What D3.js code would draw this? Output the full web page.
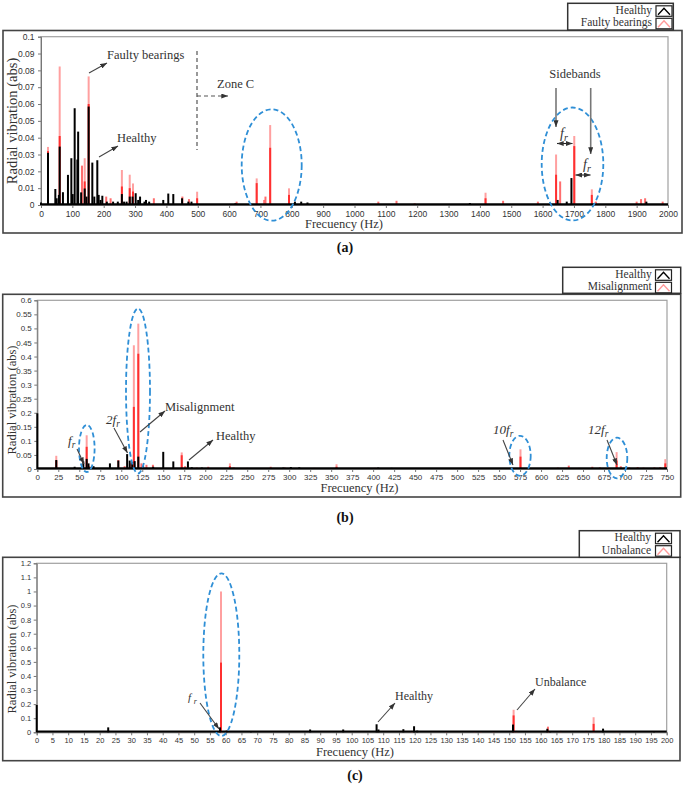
<!DOCTYPE html>
<html>
<head>
<meta charset="utf-8">
<script src="https://cdnjs.cloudflare.com/ajax/libs/d3/7.8.5/d3.min.js"></script>
<style>
  body { margin: 0; background: #fff; }
  svg text { font-family: "Liberation Serif", "DejaVu Serif", "Times New Roman", serif; fill: #333; }
  .tick text { font-family: "Liberation Sans Narrow", "Liberation Sans", Arial, sans-serif; fill: #333; }
  .tick line, .domain { stroke: #777; }
</style>
</head>
<body>
<svg id="chart" width="685" height="788"></svg>
<script>
// ---- data: [frequency Hz, amplitude] ; red ones: [f, peak, solid part] ----
const healthyA = [[0,0.0015],[22.3,0.031],[45.7,0.0095],[50,0.004],[57,0.006],[59.6,0.0347],[70,0.0076],[86,0.0179],
  [96.8,0.0278],[101,0.0065],[107.4,0.0575],[116,0.027],[118.5,0.0436],[128,0.0075],[139.4,0.0098],[145,0.005],
  [152,0.0585],[163.7,0.0252],[170,0.005],[179.6,0.0266],[184,0.006],[190,0.003],[195.6,0.0055],[210,0.002],
  [230,0.002],[245,0.002],[258,0.0065],[265,0.002],[273,0.002],[283,0.005],[292,0.005],[302,0.007],[310,0.003],
  [316,0.005],[330,0.002],[335,0.003],[345,0.002],[390,0.003],[406,0.0068],[422,0.0065],[450,0.004],[470,0.002],
  [480,0.002],[620,0.001],[810,0.002],[830,0.002],[850,0.0015],[1368,0.0012],[1648,0.003],[1677,0.002],
  [1692,0.016],[1931,0.002]];
const faultyA = [[22.3,0.0345,0.032],[59.6,0.0823,0.041],[130.8,0.0234],[139.4,0.0278,0.014],[152,0.0764,0.06],
  [208,0.005],[222,0.004],[258,0.0208,0.011],[283,0.018,0.01],[293.5,0.0128,0.008],[360,0.004],[451,0.005],
  [472,0.0035],[498,0.0079,0.004],[624,0.002],[688,0.0158,0.013],[712,0.003],[716,0.005],[731,0.0475,0.034],
  [791,0.0099,0.006],[1076,0.002],[1134,0.0025],[1192,0.001],[1418,0.0073,0.004],[1474,0.0025],[1585,0.002],
  [1643,0.03,0.018],[1656,0.014],[1701,0.041,0.035],[1757,0.0093,0.006],[1770,0.002],[1900,0.002],
  [1914,0.0035],[1927,0.004],[1983,0.002]];

const healthyB = [[0,0.198],[22.6,0.032],[44.5,0.008],[54.8,0.027],[58.8,0.036],[61,0.02],[67,0.01],[86.5,0.02],
  [96.5,0.03],[107,0.053],[110,0.03],[113,0.025],[116,0.028],[120.3,0.044],[126,0.01],[138,0.008],[150,0.061],
  [162,0.027],[179.4,0.027],[184,0.006],[196,0.005],[232,0.004],[260,0.003],[293,0.005],[302,0.007],[312,0.006],
  [406,0.005],[422,0.004],[452,0.003]];
const misalignB = [[22.6,0.047,0.03],[58.8,0.12,0.079],[62,0.01],[96.5,0.032],[104,0.01],[111,0.02],
  [115,0.44,0.221],[120.3,0.517,0.41],[124,0.02],[130,0.015],[137.7,0.015],[172,0.059,0.049],[176,0.01],
  [190,0.005],[203.6,0.008],[229.4,0.02,0.01],[234,0.006],[250,0.004],[278,0.008],[295,0.005],[330,0.004],
  [356.4,0.017,0.008],[402,0.004],[470,0.003],[515,0.004],[575.5,0.07,0.044],[610,0.003],[620,0.005],
  [633,0.012],[645,0.004],[661,0.008],[670,0.006],[680,0.005],[690,0.06,0.03],[695,0.01],[705,0.006],
  [715,0.007],[722,0.005],[735,0.006],[742,0.007],[748,0.035,0.02]];

const healthyC = [[0,0.194],[22.7,0.035],[58.2,0.035],[60.3,0.012],[68,0.005],[86.8,0.02],[97.3,0.02],
  [107.9,0.057],[108.5,0.02],[116.4,0.022],[119.8,0.043],[120.8,0.012],[151.2,0.055],[162.1,0.025],[163,0.008],
  [179.8,0.026],[196,0.003]];
const unbalanceC = [[45.3,0.005],[58.5,1.0,0.495],[119.1,0.01],[130,0.006],[139,0.004],[141,0.004],[145,0.004],
  [151.4,0.16,0.12],[152.3,0.01],[162.3,0.04],[166.3,0.01],[174.5,0.01],[176.8,0.107,0.06],[184.1,0.005]];

const xTicksA = d3.range(0, 2001, 100);
const yTicksA = [0,0.01,0.02,0.03,0.04,0.05,0.06,0.07,0.08,0.09,0.1];
const xTicksB = d3.range(0, 751, 25);
const yTicksB = [0,0.05,0.1,0.15,0.2,0.25,0.3,0.35,0.4,0.45,0.5,0.55,0.6];
const xTicksC = d3.range(0, 201, 5);
const yTicksC = [0,0.1,0.2,0.3,0.4,0.5,0.6,0.7,0.8,0.9,1,1.1,1.2];

const legendA = ["Healthy", "Faulty bearings"];
const legendB = ["Healthy", "Misalignment"];
const legendC = ["Healthy", "Unbalance"];

const SERIF = '"Liberation Serif", "DejaVu Serif", "Times New Roman", serif';

const svg = d3.select("#chart");
const defs = svg.append("defs");
defs.append("marker").attr("id", "ah").attr("viewBox", "0 0 8 6").attr("refX", 8).attr("refY", 3)
  .attr("markerWidth", 7).attr("markerHeight", 5).attr("markerUnits", "userSpaceOnUse").attr("orient", "auto-start-reverse")
  .append("path").attr("d", "M0,0L8,3L0,6z").attr("fill", "#333");

function serifText(sel, size) {
  return sel.style("font-family", SERIF).style("font-size", size + "px");
}

function drawPanel(p) {
  const g = svg.append("g");
  // outer frame
  g.append("rect").attr("x", p.frame[0]).attr("y", p.frame[1]).attr("width", p.frame[2] - p.frame[0])
    .attr("height", p.frame[3] - p.frame[1]).attr("fill", "none").attr("stroke", "#444").attr("stroke-width", 1.6);

  const x = d3.scaleLinear().domain([0, p.xMax]).range([p.left, p.right]);
  const y = d3.scaleLinear().domain([0, p.yMax]).range([p.bottom, p.top]);

  g.append("rect").attr("x", p.left).attr("y", p.top).attr("width", p.right - p.left)
    .attr("height", p.bottom - p.top).attr("fill", "none").attr("stroke", "#a0a0a0").attr("stroke-width", 1.2);

  const xa = g.append("g").attr("transform", `translate(0,${p.bottom})`)
    .call(d3.axisBottom(x).tickValues(p.xTicks).tickSize(3).tickPadding(2.5).tickFormat(d3.format("d")));
  xa.selectAll("text").style("font-size", p.tickFs + "px");
  const ya = g.append("g").attr("transform", `translate(${p.left},0)`)
    .call(d3.axisLeft(y).tickValues(p.yTicks).tickSize(3).tickPadding(p.yPad).tickFormat(d => String(+d.toFixed(2))));
  ya.selectAll("text").style("font-size", p.tickFs + "px");

  // faulty spectrum (red) under healthy (black)
  const red = g.append("g");
  red.selectAll("line.pk").data(p.red).join("line").attr("class", "pk")
    .attr("x1", d => x(d[0])).attr("x2", d => x(d[0]))
    .attr("y1", y(0)).attr("y2", d => y(d[1]))
    .attr("stroke", d => d[2] ? "#ffa0a0" : "#ff6e6e").attr("stroke-width", 2);
  red.selectAll("line.sd").data(p.red.filter(d => d[2])).join("line").attr("class", "sd")
    .attr("x1", d => x(d[0])).attr("x2", d => x(d[0]))
    .attr("y1", y(0)).attr("y2", d => y(d[2]))
    .attr("stroke", "#ff3030").attr("stroke-width", 2);

  g.append("line").attr("x1", x(0)).attr("x2", x(p.xMax)).attr("y1", y(0) - 0.8).attr("y2", y(0) - 0.8)
    .attr("stroke", "#000").attr("stroke-width", 2);
  g.append("g").selectAll("line").data(p.black).join("line")
    .attr("x1", d => x(d[0])).attr("x2", d => x(d[0]))
    .attr("y1", y(0)).attr("y2", d => y(d[1]))
    .attr("stroke", "#000").attr("stroke-width", 2);

  // axis titles
  serifText(g.append("text").attr("x", p.xTitle[0]).attr("y", p.xTitle[1]).attr("text-anchor", "middle"), 12.5)
    .text("Frecuency (Hz)");
  serifText(g.append("text").attr("transform", `translate(${p.yTitle[0]},${p.yTitle[1]}) rotate(-90)`)
    .attr("text-anchor", "middle"), p.yTitleFs).text("Radial vibration (abs)");

  // annotations
  p.ellipses.forEach(e => g.append("ellipse").attr("cx", e[0]).attr("cy", e[1]).attr("rx", e[2]).attr("ry", e[3])
    .attr("fill", "none").attr("stroke", "#2f8fd6").attr("stroke-width", 1.8).attr("stroke-dasharray", "5,3"));
  p.arrows.forEach(a => {
    const l = g.append("line").attr("x1", a[0]).attr("y1", a[1]).attr("x2", a[2]).attr("y2", a[3])
      .attr("stroke", a[5] || "#444").attr("stroke-width", a[6] || 1.1);
    if (a[4] === "end" || a[4] === "both") l.attr("marker-end", "url(#ah)");
    if (a[4] === "both") l.attr("marker-start", "url(#ah)");
    if (a[7]) l.attr("stroke-dasharray", a[7]);
  });
  p.labels.forEach(t => {
    const tx = serifText(g.append("text").attr("x", t.x).attr("y", t.y).attr("text-anchor", t.anchor || "start"), t.fs || 12.5);
    if (t.sub) {
      tx.append("tspan").style("font-style", "italic").text(t.t);
      tx.append("tspan").style("font-style", "italic").style("font-size", (t.fs * 0.72) + "px").attr("dy", 3).text(t.sub);
    } else tx.text(t.t);
  });

  // legend
  const L = p.legend;
  g.append("rect").attr("x", L.x).attr("y", L.y).attr("width", L.w).attr("height", L.h)
    .attr("fill", "#fff").attr("stroke", "#333").attr("stroke-width", 1.5);
  p.legendNames.forEach((n, i) => {
    const by = L.y + 2.5 + i * 12.5;
    serifText(g.append("text").attr("x", L.tx).attr("y", L.y + 10.5 + i * 12.5).attr("text-anchor", "end"), 11.5)
      .text(n);
    g.append("rect").attr("x", L.bx).attr("y", by).attr("width", 16).attr("height", 10.5)
      .attr("fill", "#fff").attr("stroke", "#222").attr("stroke-width", 1.2);
    g.append("polyline").attr("points", `${L.bx + 2},${by + 9} ${L.bx + 8},${by + 2.5} ${L.bx + 14},${by + 9}`)
      .attr("fill", "none").attr("stroke", i === 0 ? "#000" : "#ff9a9a").attr("stroke-width", 1.4);
  });

  serifText(g.append("text").attr("x", p.tag[0]).attr("y", p.tag[1]).attr("text-anchor", "middle"), 14)
    .style("font-weight", "bold").style("fill", "#111").text(p.tagText);
}

drawPanel({
  frame: [3, 30.5, 682, 233], left: 41, right: 668, top: 36.7, bottom: 205,
  xMax: 2000, yMax: 0.1, xTicks: xTicksA, yTicks: yTicksA, tickFs: 8.5, yPad: 3.5,
  red: faultyA, black: healthyA, xTitle: [344, 228], yTitle: [17, 121], yTitleFs: 14.5,
  legend: { x: 567.7, y: 3.3, w: 105.6, h: 26.7, tx: 652, bx: 656 }, legendNames: legendA,
  tag: [345, 252], tagText: "(a)",
  ellipses: [[271.7, 165, 30, 55.7], [572.5, 164, 30.8, 56.5]],
  arrows: [[89, 73, 107, 63, "end"], [99, 157, 118, 146, "end"],
    [197, 51, 197, 150, "none", "#555", 1.2, "4,3"], [197, 96, 228, 96, "end", "#555", 1.2, "4,3"],
    [556, 88, 556, 127, "end", "#777", 1.6], [590.7, 88, 590.7, 154, "end", "#777", 1.6],
    [557, 143.5, 572.5, 143.5, "both", "#222", 1.1], [575.5, 175, 590.5, 175, "both", "#222", 1.1]],
  labels: [{ x: 107, y: 59, t: "Faulty bearings" }, { x: 117, y: 142, t: "Healthy" },
    { x: 217, y: 88, t: "Zone C" }, { x: 575, y: 78, t: "Sidebands", anchor: "middle" },
    { x: 560, y: 138, t: "f", sub: "r", fs: 14 }, { x: 583, y: 169, t: "f", sub: "r", fs: 14 }]
});

drawPanel({
  frame: [2.7, 294.3, 680.7, 497], left: 37.3, right: 667, top: 300.3, bottom: 469,
  xMax: 750, yMax: 0.6, xTicks: xTicksB, yTicks: yTicksB, tickFs: 8, yPad: 2.5,
  red: misalignB, black: healthyB, xTitle: [359.5, 492], yTitle: [15.5, 400], yTitleFs: 12.5,
  legend: { x: 562.7, y: 267.3, w: 118, h: 26, tx: 651.7, bx: 655.5 }, legendNames: legendB,
  tag: [345, 522], tagText: "(b)",
  ellipses: [[86.8, 448.5, 7.8, 23.5], [138, 391, 12, 82.5], [520, 455.8, 10.7, 20], [617, 458, 10.3, 20.3]],
  arrows: [[140, 432, 165, 411, "end"], [189, 460, 213, 440, "end"],
    [77, 449, 84, 464, "end"], [114, 428, 127.5, 453, "end"],
    [503, 440, 513, 465, "end"], [607, 440, 617, 465, "end"]],
  labels: [{ x: 165, y: 411, t: "Misalignment" }, { x: 216, y: 440, t: "Healthy" },
    { x: 68, y: 445, t: "f", sub: "r", fs: 13 }, { x: 106, y: 424, t: "2f", sub: "r", fs: 13 },
    { x: 493, y: 434, t: "10f", sub: "r", fs: 13 }, { x: 588, y: 434, t: "12f", sub: "r", fs: 13 }]
});

drawPanel({
  frame: [2.7, 557.3, 680, 760.7], left: 36.7, right: 666.7, top: 563.3, bottom: 732.3,
  xMax: 200, yMax: 1.2, xTicks: xTicksC, yTicks: yTicksC, tickFs: 7.5, yPad: 2.5,
  red: unbalanceC, black: healthyC, xTitle: [355, 755.5], yTitle: [15.5, 659], yTitleFs: 12.5,
  legend: { x: 579.3, y: 530.7, w: 100.7, h: 26.6, tx: 651, bx: 655.5 }, legendNames: legendC,
  tag: [355, 780], tagText: "(c)",
  ellipses: [[221.3, 654.7, 18, 81.3]],
  arrows: [[200, 703, 219, 729, "end"], [378, 722, 395, 703, "end"], [517, 710, 535, 689, "end"]],
  labels: [{ x: 395, y: 700, t: "Healthy", fs: 12 }, { x: 535, y: 686, t: "Unbalance", fs: 12 },
    { x: 188, y: 701, t: "f ", sub: "r", fs: 11 }]
});
</script>
</body>
</html>
